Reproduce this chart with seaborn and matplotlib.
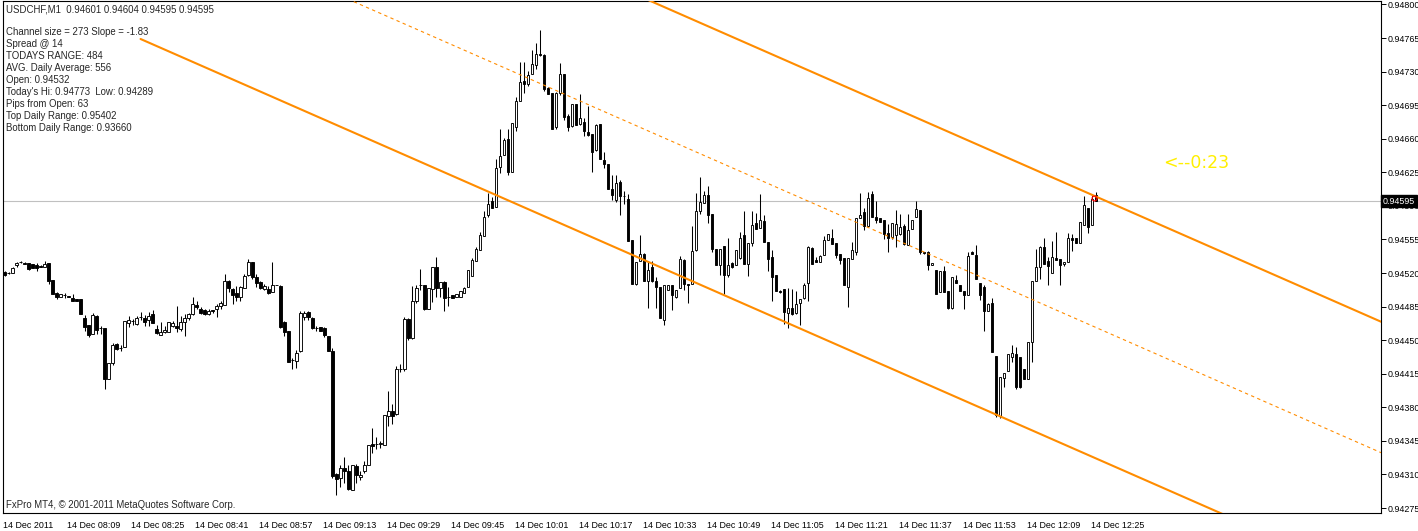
import numpy as np
import pandas as pd
import matplotlib
matplotlib.use("Agg")
import matplotlib.pyplot as plt
import matplotlib.transforms as mtransforms
import seaborn as sns

# USDCHF M1 candles, prices in points (1e-5), bar 0 = 07:53
opens = [94521, 94520, 94520, 94528, 94531, 94530, 94530, 94529, 94528, 94527,
         94526, 94530, 94513, 94499, 94495, 94497, 94496, 94494, 94493, 94493,
         94473, 94466, 94456, 94475, 94463, 94463, 94410, 94426, 94446, 94442,
         94443, 94468, 94470, 94467, 94474, 94473, 94471, 94477, 94462, 94455,
         94458, 94458, 94465, 94465, 94462, 94469, 94473, 94477, 94487, 94483,
         94481, 94477, 94481, 94482, 94486, 94487, 94512, 94503, 94499, 94495,
         94504, 94518, 94531, 94516, 94511, 94503, 94503, 94500, 94508, 94506,
         94469, 94460, 94429, 94428, 94439, 94474, 94479, 94473, 94463, 94464,
         94463, 94454, 94439, 94310, 94306, 94317, 94314, 94294, 94319, 94307,
         94314, 94320, 94342, 94342, 94342, 94341, 94371, 94376, 94373, 94420,
         94420, 94472, 94452, 94491, 94508, 94508, 94483, 94503, 94526, 94504,
         94511, 94495, 94497, 94495, 94495, 94499, 94505, 94517, 94533, 94544,
         94559, 94580, 94595, 94589, 94631, 94643, 94660, 94625, 94672, 94699,
         94720, 94717, 94728, 94737, 94748, 94747, 94713, 94708, 94672, 94708,
         94727, 94684, 94673, 94696, 94675, 94677, 94667, 94665, 94648, 94675,
         94638, 94634, 94608, 94596, 94615, 94600, 94597, 94554, 94509, 94533,
         94540, 94512, 94526, 94512, 94505, 94471, 94502, 94507, 94495, 94504,
         94534, 94509, 94509, 94544, 94585, 94593, 94601, 94582, 94545, 94528,
         94548, 94518, 94530, 94528, 94536, 94560, 94529, 94551, 94572, 94567,
         94574, 94552, 94537, 94518, 94501, 94503, 94478, 94484, 94478, 94489,
         94494, 94510, 94546, 94534, 94532, 94539, 94554, 94557, 94551, 94540,
         94536, 94505, 94535, 94542, 94577, 94584, 94569, 94602, 94578, 94577,
         94575, 94562, 94558, 94560, 94561, 94569, 94549, 94566, 94578, 94586,
         94542, 94542, 94528, 94523, 94500, 94522, 94501, 94484, 94513, 94508,
         94501, 94497, 94542, 94539, 94510, 94505, 94480, 94489, 94433, 94371,
         94411, 94418, 94432, 94436, 94432, 94420, 94409, 94448, 94512, 94526,
         94547, 94533, 94520, 94536, 94535, 94529, 94531, 94557, 94556, 94551,
         94570, 94588, 94570, 94601]
highs = [94522, 94521, 94526, 94531, 94533, 94532, 94530, 94529, 94530, 94528,
         94533, 94530, 94513, 94500, 94498, 94499, 94496, 94498, 94493, 94493,
         94476, 94466, 94478, 94476, 94465, 94463, 94426, 94447, 94447, 94445,
         94470, 94475, 94472, 94475, 94479, 94476, 94479, 94481, 94466, 94469,
         94465, 94469, 94470, 94486, 94475, 94477, 94478, 94495, 94491, 94485,
         94483, 94483, 94481, 94488, 94491, 94519, 94513, 94504, 94506, 94506,
         94519, 94535, 94531, 94519, 94512, 94509, 94506, 94531, 94508, 94507,
         94470, 94460, 94431, 94440, 94480, 94480, 94480, 94474, 94465, 94464,
         94464, 94454, 94442, 94311, 94320, 94328, 94320, 94320, 94321, 94314,
         94324, 94341, 94358, 94349, 94345, 94372, 94397, 94383, 94423, 94425,
         94474, 94473, 94506, 94507, 94524, 94508, 94504, 94526, 94537, 94511,
         94512, 94505, 94497, 94498, 94501, 94505, 94523, 94536, 94547, 94563,
         94585, 94603, 94599, 94639, 94670, 94661, 94670, 94676, 94704, 94740,
         94740, 94731, 94753, 94760, 94773, 94748, 94714, 94708, 94709, 94739,
         94727, 94686, 94696, 94696, 94707, 94682, 94694, 94665, 94675, 94675,
         94646, 94634, 94622, 94622, 94617, 94606, 94602, 94554, 94532, 94560,
         94541, 94533, 94533, 94516, 94505, 94507, 94508, 94507, 94502, 94538,
         94535, 94509, 94569, 94603, 94620, 94605, 94611, 94582, 94545, 94545,
         94548, 94557, 94531, 94544, 94563, 94585, 94551, 94585, 94583, 94602,
         94580, 94552, 94544, 94518, 94502, 94503, 94504, 94503, 94501, 94493,
         94510, 94548, 94547, 94537, 94539, 94559, 94561, 94566, 94551, 94540,
         94536, 94536, 94552, 94577, 94603, 94588, 94604, 94605, 94595, 94577,
         94575, 94571, 94572, 94586, 94582, 94571, 94582, 94575, 94595, 94586,
         94542, 94543, 94530, 94523, 94522, 94527, 94501, 94516, 94518, 94508,
         94501, 94542, 94543, 94549, 94510, 94508, 94489, 94494, 94433, 94412,
         94416, 94436, 94445, 94443, 94432, 94420, 94448, 94512, 94545, 94548,
         94557, 94537, 94553, 94563, 94535, 94532, 94562, 94561, 94556, 94573,
         94600, 94588, 94602, 94604]
lows = [94517, 94519, 94520, 94526, 94530, 94529, 94523, 94525, 94522, 94526,
        94526, 94509, 94498, 94493, 94495, 94494, 94495, 94491, 94491, 94477,
        94460, 94453, 94456, 94456, 94456, 94399, 94410, 94424, 94440, 94439,
        94443, 94464, 94466, 94466, 94471, 94465, 94465, 94468, 94456, 94455,
        94457, 94458, 94464, 94458, 94460, 94454, 94471, 94476, 94482, 94477,
        94476, 94476, 94478, 94474, 94483, 94487, 94500, 94488, 94491, 94491,
        94504, 94517, 94514, 94505, 94503, 94502, 94498, 94500, 94507, 94463,
        94454, 94427, 94420, 94421, 94438, 94471, 94471, 94462, 94460, 94460,
        94453, 94439, 94306, 94289, 94297, 94301, 94294, 94294, 94301, 94304,
        94311, 94320, 94332, 94337, 94338, 94341, 94361, 94363, 94372, 94417,
        94418, 94450, 94451, 94489, 94502, 94481, 94483, 94490, 94495, 94495,
        94480, 94486, 94494, 94495, 94495, 94499, 94505, 94517, 94533, 94544,
        94559, 94578, 94588, 94589, 94624, 94643, 94622, 94625, 94668, 94699,
        94708, 94715, 94728, 94733, 94746, 94710, 94707, 94670, 94670, 94706,
        94680, 94668, 94672, 94674, 94674, 94663, 94663, 94625, 94647, 94639,
        94630, 94608, 94596, 94594, 94581, 94592, 94553, 94509, 94508, 94533,
        94512, 94484, 94511, 94484, 94473, 94466, 94502, 94481, 94494, 94504,
        94502, 94489, 94509, 94543, 94582, 94593, 94572, 94542, 94528, 94518,
        94498, 94516, 94525, 94528, 94535, 94529, 94517, 94548, 94566, 94567,
        94552, 94522, 94491, 94501, 94499, 94467, 94463, 94476, 94477, 94466,
        94493, 94491, 94529, 94531, 94532, 94539, 94554, 94550, 94536, 94529,
        94508, 94485, 94535, 94539, 94577, 94565, 94568, 94578, 94572, 94573,
        94555, 94542, 94555, 94547, 94560, 94549, 94549, 94566, 94578, 94540,
        94540, 94523, 94528, 94498, 94500, 94500, 94483, 94483, 94510, 94501,
        94482, 94497, 94540, 94514, 94492, 94460, 94480, 94438, 94370, 94369,
        94401, 94418, 94427, 94399, 94400, 94409, 94409, 94427, 94512, 94514,
        94529, 94508, 94520, 94534, 94508, 94527, 94531, 94543, 94551, 94551,
        94570, 94562, 94570, 94595]
closes = [94518, 94520, 94525, 94530, 94531, 94529, 94524, 94525, 94525, 94526,
          94529, 94512, 94498, 94495, 94498, 94497, 94495, 94491, 94491, 94477,
          94464, 94455, 94476, 94461, 94463, 94410, 94426, 94445, 94441, 94442,
          94470, 94471, 94470, 94473, 94474, 94469, 94475, 94468, 94457, 94458,
          94461, 94469, 94468, 94463, 94469, 94473, 94477, 94488, 94485, 94478,
          94477, 94480, 94480, 94486, 94489, 94512, 94504, 94497, 94495, 94505,
          94517, 94532, 94516, 94510, 94504, 94506, 94499, 94508, 94507, 94464,
          94458, 94427, 94429, 94437, 94478, 94478, 94474, 94463, 94463, 94460,
          94455, 94439, 94308, 94305, 94317, 94314, 94295, 94320, 94309, 94309,
          94320, 94341, 94340, 94342, 94343, 94372, 94376, 94371, 94420, 94420,
          94472, 94452, 94491, 94504, 94508, 94482, 94504, 94526, 94504, 94511,
          94494, 94495, 94494, 94498, 94501, 94504, 94523, 94534, 94545, 94560,
          94578, 94592, 94588, 94629, 94642, 94659, 94625, 94676, 94699, 94719,
          94717, 94726, 94738, 94748, 94747, 94712, 94707, 94670, 94708, 94727,
          94683, 94672, 94696, 94674, 94682, 94668, 94664, 94646, 94674, 94639,
          94634, 94608, 94601, 94614, 94600, 94600, 94553, 94509, 94532, 94540,
          94512, 94523, 94512, 94505, 94473, 94507, 94508, 94497, 94502, 94535,
          94509, 94507, 94543, 94585, 94594, 94601, 94581, 94545, 94528, 94545,
          94518, 94528, 94526, 94544, 94557, 94529, 94551, 94570, 94566, 94575,
          94552, 94535, 94516, 94501, 94500, 94479, 94484, 94477, 94488, 94493,
          94508, 94547, 94529, 94532, 94538, 94554, 94561, 94550, 94539, 94534,
          94508, 94536, 94544, 94577, 94581, 94569, 94598, 94578, 94575, 94573,
          94561, 94557, 94572, 94571, 94568, 94550, 94565, 94575, 94587, 94542,
          94541, 94528, 94530, 94498, 94522, 94500, 94484, 94516, 94510, 94501,
          94497, 94538, 94540, 94514, 94497, 94480, 94488, 94438, 94372, 94412,
          94416, 94436, 94437, 94401, 94401, 94409, 94448, 94512, 94526, 94547,
          94529, 94527, 94537, 94534, 94528, 94532, 94556, 94554, 94551, 94573,
          94591, 94568, 94597, 94595]

tick_labels = ["14 Dec 2011", "14 Dec 08:09", "14 Dec 08:25", "14 Dec 08:41",
               "14 Dec 08:57", "14 Dec 09:13", "14 Dec 09:29", "14 Dec 09:45",
               "14 Dec 10:01", "14 Dec 10:17", "14 Dec 10:33", "14 Dec 10:49",
               "14 Dec 11:05", "14 Dec 11:21", "14 Dec 11:37", "14 Dec 11:53",
               "14 Dec 12:09", "14 Dec 12:25"]
price_ticks = [0.94275, 0.94310, 0.94345, 0.94380, 0.94415, 0.94450, 0.94485,
               0.94520, 0.94555, 0.94590, 0.94625, 0.94660, 0.94695, 0.94730,
               0.94765, 0.94800]

info_lines = ["Channel size = 273 Slope = -1.83", "Spread @ 14", "TODAYS RANGE: 484",
              "AVG. Daily Average: 556", "Open: 0.94532", "Today's Hi: 0.94773  Low: 0.94289",
              "Pips from Open: 63", "Top Daily Range: 0.95402", "Bottom Daily Range: 0.93660"]

channel_start_bar = 34
channel_start_price = 0.94764
channel_slope = -1.83      # points per bar
channel_size = 273         # points
last_price = 0.94595

df = pd.DataFrame({"O": opens, "H": highs, "L": lows, "C": closes}) / 1e5
df["bar"] = np.arange(len(df))

sns.set_style("white")
plt.rcParams["font.family"] = ["Liberation Sans", "DejaVu Sans"]
FS = 6.9      # overlay text
FS_TICK = 6.4

W, H = 1418, 531
fig = plt.figure(figsize=(W / 100, H / 100), dpi=100)
ax = fig.add_axes([3 / W, 18 / H, 1378 / W, 512 / H])

# wicks then bodies
ax.vlines(df["bar"], df["L"], df["H"], colors="black", linewidth=0.75, zorder=2)
up = df["C"] >= df["O"]
body_lo = df[["O", "C"]].min(axis=1)
body_h = (df["C"] - df["O"]).abs()
ax.bar(df["bar"][up], body_h[up], bottom=body_lo[up], width=0.55,
       color="white", edgecolor="black", linewidth=0.65, zorder=3)
ax.bar(df["bar"][~up], body_h[~up], bottom=body_lo[~up], width=0.55,
       color="black", edgecolor="black", linewidth=0.65, zorder=3)

# regression channel
end_bar = 360
xs = [channel_start_bar, end_bar]
lower = [channel_start_price, channel_start_price + channel_slope * (end_bar - channel_start_bar) / 1e5]
for off, lw, ls in [(0, 1.5, "-"), (channel_size, 1.5, "-"), (channel_size / 2, 0.8, (0, (3, 3)))]:
    sns.lineplot(x=xs, y=[p + off / 1e5 for p in lower], color="#FF8C00",
                 linewidth=lw, linestyle=ls, ax=ax, zorder=4)

ax.axhline(last_price, color="#C0C0C0", linewidth=0.8, zorder=1)
ax.plot([272.4], [0.94598], marker="o", markersize=3.5, markerfacecolor="none",
        markeredgecolor="red", markeredgewidth=0.8, zorder=5)

ax.set_xlim(-0.25, 344.25)
ax.set_ylim(0.942698, 0.948036)

ax.yaxis.tick_right()
ax.set_yticks(price_ticks)
ax.set_yticklabels([f"{p:.5f}" for p in price_ticks])
ax.set_xticks([i - 0.4 for i in range(0, len(df), 16)])
ax.set_xticklabels(tick_labels)
for lbl in ax.get_xticklabels():
    lbl.set_ha("left")
ax.tick_params(axis="both", direction="out", length=4, width=0.7, color="black",
               labelsize=FS_TICK, labelcolor="black", pad=2)
ax.tick_params(axis="x", pad=1.5)
ax.tick_params(axis="y", right=True, left=False, length=3.5, pad=1.0)
ax.set_xlabel("")
ax.set_ylabel("")
for s in ax.spines.values():
    s.set_visible(True)
    s.set_color("black")
    s.set_linewidth(0.8)

blend = mtransforms.blended_transform_factory(ax.transAxes, ax.transData)
ax.text(1.0015, last_price, f"{last_price:.5f}", transform=blend, color="white",
        fontsize=FS_TICK, va="center", ha="left", zorder=10, clip_on=False,
        bbox=dict(boxstyle="square,pad=0.2", facecolor="black", edgecolor="black"))

# text overlays
fig.text(6 / W, 1 - 9 / H, "USDCHF,M1  0.94601 0.94604 0.94595 0.94595",
         fontsize=FS, va="center", ha="left")
for k, line in enumerate(info_lines):
    fig.text(6 / W, 1 - (32 + 12 * k) / H, line, fontsize=FS, va="center", ha="left")
fig.text(6 / W, 1 - 505 / H, "FxPro MT4, \u00a9 2001-2011 MetaQuotes Software Corp.",
         fontsize=FS, va="center", ha="left")
fig.text(1163 / W, 1 - 163 / H, "<--0:23", fontsize=12.5, color="#FFEF00",
         family="DejaVu Sans", va="center", ha="left")

fig.savefig("out.png", dpi=100)
